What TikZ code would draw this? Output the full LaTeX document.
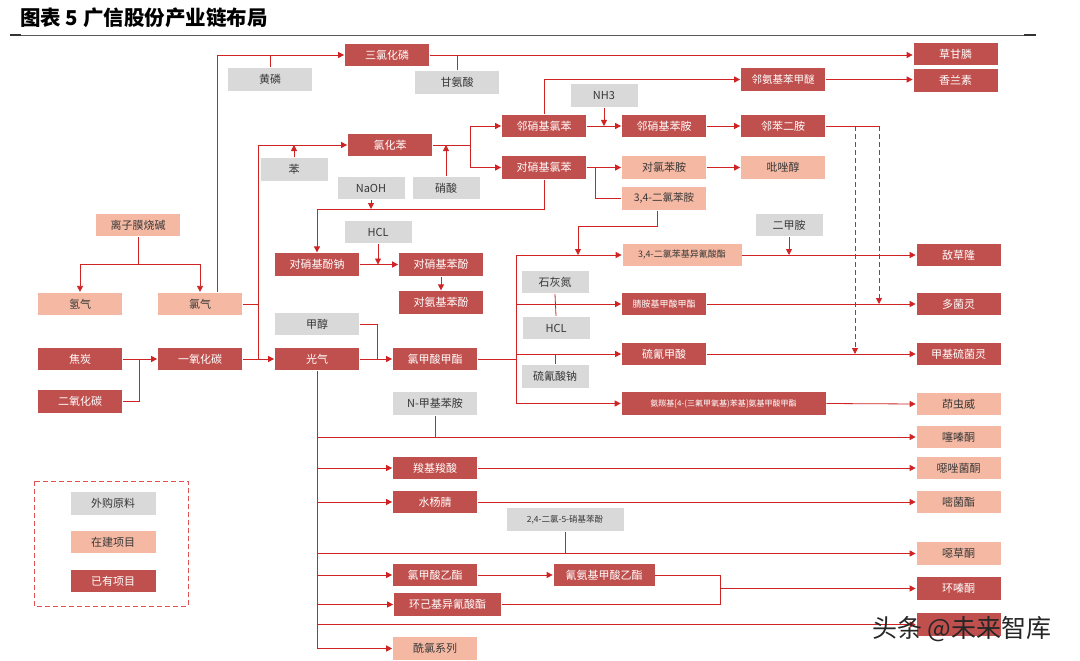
\documentclass[tikz,border=0pt]{standalone}
\usepackage{fontspec}
\newfontfamily\cjk{Noto Sans CJK SC}
\usetikzlibrary{arrows.meta}
\definecolor{dred}{RGB}{192,80,77}
\definecolor{salm}{RGB}{245,185,163}
\definecolor{lgray}{RGB}{217,217,217}
\definecolor{lred}{RGB}{208,36,36}
\definecolor{legred}{RGB}{226,80,80}
\definecolor{dtext}{RGB}{55,55,55}
\begin{document}
\begin{tikzpicture}[x=1pt,y=-1pt,
  font=\cjk\fontsize{11}{13}\selectfont,
  box/.style={minimum width=85pt, minimum height=23.5pt, inner sep=1pt, draw=white, line width=0.7pt, anchor=center},
  own/.style={box, fill=dred, text=white},
  bld/.style={box, fill=salm, text=dtext},
  buy/.style={box, fill=lgray, text=dtext},
  sm/.style={font=\cjk\fontsize{8}{10}\selectfont},
  smm/.style={font=\cjk\fontsize{9}{11}\selectfont},
  ln/.style={draw=lred, line width=0.8pt},
  arr/.style={ln, -{Triangle[length=6pt,width=6pt]}},
  dsh/.style={dash pattern=on 5pt off 3pt}
]
\useasboundingbox (0,0) rectangle (1080,661);
\fill[white] (0,0) rectangle (1080,661);

% title
\node[anchor=west, inner sep=0pt, font=\cjk\fontsize{20.5}{23}\selectfont\bfseries] (title) at (20,18) {图表 5 广信股份产业链布局};
\draw[black!65, line width=0.6pt] (10,35) -- (1035,35);
\fill[black!80] (10,33.6) rectangle (21,35.6);
\fill[black!80] (1024,33.6) rectangle (1036,35.6);

% nodes
\node[own] (pcl3) at (387,55) {三氯化磷};
\node[buy] (hp) at (270,79.5) {黄磷};
\node[buy] (gly) at (457,82.5) {甘氨酸};
\node[own] (glyp) at (955.5,54) {草甘膦};
\node[own] (van) at (955.5,80.5) {香兰素};
\node[own, font=\cjk\fontsize{10.5}{12}\selectfont] (oas) at (783,79.5) {邻氨基苯甲醚};
\node[buy, minimum width=68pt] (nh3) at (604,95.5) {NH3};
\node[own] (onc) at (544,126) {邻硝基氯苯};
\node[own] (ona) at (664,126) {邻硝基苯胺};
\node[own] (opd) at (783,126) {邻苯二胺};
\node[own] (pcb) at (390,145) {氯化苯};
\node[buy, minimum width=68pt] (ben) at (294,169.5) {苯};
\node[own] (pnc) at (544,167.5) {对硝基氯苯};
\node[bld] (pca) at (664,167.5) {对氯苯胺};
\node[bld] (pyr) at (783,167.5) {吡唑醇};
\node[buy, minimum width=68pt] (naoh) at (371,188) {NaOH};
\node[buy, minimum width=68pt] (hno3) at (446,188) {硝酸};
\node[bld, font=\cjk\fontsize{10.5}{12}\selectfont] (dca) at (664,198.5) {3,4-二氯苯胺};
\node[bld] (lzm) at (138,225) {离子膜烧碱};
\node[buy, minimum width=68pt] (hcl1) at (378,232) {HCL};
\node[own] (pnpna) at (317,264.5) {对硝基酚钠};
\node[own] (pnp) at (441,264.5) {对硝基苯酚};
\node[buy, minimum width=68pt] (dma) at (789,225) {二甲胺};
\node[bld, smm, minimum width=120pt] (dcpi) at (682,255) {3,4-二氯苯基异氰酸酯};
\node[own] (diu) at (958.5,255) {敌草隆};
\node[buy, minimum width=68pt] (lime) at (555,282) {石灰氮};
\node[own] (pap) at (441,302.5) {对氨基苯酚};
\node[bld] (h2) at (80,304) {氢气};
\node[bld] (cl2) at (200,304) {氯气};
\node[own, smm] (cbm) at (664,304) {腈胺基甲酸甲酯};
\node[own] (dj) at (958.5,304) {多菌灵};
\node[buy] (meoh) at (317,324) {甲醇};
\node[buy, minimum width=68pt] (hcl2) at (556,328) {HCL};
\node[own] (coke) at (80,359) {焦炭};
\node[own] (co) at (200,359) {一氧化碳};
\node[own] (cocl2) at (317,359) {光气};
\node[own] (mcf) at (435,359) {氯甲酸甲酯};
\node[own] (scn) at (664,354) {硫氰甲酸};
\node[own] (mts) at (958.5,354) {甲基硫菌灵};
\node[buy, minimum width=68pt] (nascn) at (555,376.5) {硫氰酸钠};
\node[own] (co2) at (80,401.5) {二氧化碳};
\node[buy] (nma) at (435,403.5) {N-甲基苯胺};
\node[own, sm, minimum width=205pt] (tfm) at (723.5,403.5) {氨羰基[4-(三氟甲氧基)苯基]氨基甲酸甲酯};
\node[bld] (ind) at (958.5,404) {茚虫威};
\node[bld] (bup) at (958.5,437) {噻嗪酮};
\node[own] (cca) at (435,468) {羧基羧酸};
\node[bld] (fam) at (958.5,468) {噁唑菌酮};
\node[own] (sal) at (435,502) {水杨腈};
\node[bld] (azo) at (958.5,502) {嘧菌酯};
\node[buy, font=\cjk\fontsize{8.5}{10}\selectfont, minimum width=118pt] (dcnp) at (565,519.5) {2,4-二氯-5-硝基苯酚};
\node[bld] (oxa) at (958.5,553.5) {噁草酮};
\node[own] (ecf) at (435,575) {氯甲酸乙酯};
\node[own, minimum width=102pt] (ecc) at (604,575) {氰氨基甲酸乙酯};
\node[own, minimum width=108pt] (chi) at (447.5,604.5) {环己基异氰酸酯};
\node[own] (hex) at (958.5,588.5) {环嗪酮};
\node[own] (hid) at (958.5,624.5) {};
\node[bld] (acl) at (435,648.5) {酰氯系列};

% legend
\draw[legred, line width=1pt, dsh] (34,481) rectangle (188,606);
\node[buy, minimum width=86pt] (lg1) at (113,503.5) {外购原料};
\node[bld, minimum width=86pt] (lg2) at (113,542) {在建项目};
\node[own, minimum width=86pt] (lg3) at (113,581) {已有项目};

% coordinates
\coordinate (j1) at (138,264);
\coordinate (j2) at (139,359);
\coordinate (cbt) at (258,145);
\coordinate (cbb) at (258,359);
\coordinate (p1) at (217,55);
\coordinate (b1) at (470,145);
\coordinate (d1) at (879,126);
\coordinate (d2) at (855,126);
\coordinate (b2) at (595,167.5);
\coordinate (b4) at (317,209);
\coordinate (b5) at (578,226);
\coordinate (b6) at (377,359);
\coordinate (r0) at (516,359);
\coordinate (rt) at (516,255);
\coordinate (rb) at (516,403.5);
\coordinate (lb) at (317,648.5);
\coordinate (b7) at (720,588.5);

% 离子膜烧碱
\draw[ln] (lzm.south) -- (j1);
\draw[arr] (j1) -| (h2.north);
\draw[arr] (j1) -| (cl2.north);
% 焦炭 / 二氧化碳 -> 一氧化碳 -> 光气
\draw[arr] (coke.east) -- (co.west);
\draw[ln] (co2.east) -| (j2);
\draw[arr] (co.east) -- (cocl2.west);
% 氯气
\draw[ln] (cl2.east) -- (cl2.east -| cbb);
\draw[ln] (cbb) -- (cbt);
\draw[arr] (cbt) -- (pcb.west);
\draw[arr] (ben.north) -- (ben.north |- cbt);
\draw[arr] (cl2.north -| p1) -- (p1) -- (pcl3.west);
\draw[ln] (hp.north) -- (hp.north |- p1);
\draw[arr] (pcl3.east) -- (pcl3.east -| glyp.west);
\draw[ln] (gly.north) -- (gly.north |- pcl3.east);
% 氯化苯
\draw[ln] (pcb.east) -- (b1);
\draw[arr] (b1) |- (onc.west);
\draw[arr] (b1) |- (pnc.west);
\draw[arr] (hno3.north) -- (hno3.north |- b1);
% 邻硝基氯苯
\draw[arr] (onc.east) -- (ona.west);
\draw[arr] (nh3.south) -- (nh3.south |- onc.east);
\draw[arr] (onc.north) |- (oas.west);
\draw[arr] (oas.east) -- (oas.east -| van.west);
\draw[arr] (ona.east) -- (opd.west);
\draw[ln] (opd.east) -- (d1);
\draw[arr, dsh] (d2) -- (d2 |- mts.west);
\draw[arr, dsh] (d1) -- (d1 |- dj.west);
% 对硝基氯苯
\draw[arr] (pnc.east) -- (pca.west);
\draw[arr] (pca.east) -- (pyr.west);
\draw[ln] (b2) |- (dca.west);
\draw[arr] (pnc.south) |- (b4) -- (pnpna.north);
\draw[arr] (naoh.south) -- (naoh.south |- b4);
\draw[arr] (pnpna.east) -- (pnp.west);
\draw[arr] (hcl1.south) -- (hcl1.south |- pnp.west);
\draw[arr] (pnp.south) -- (pap.north);
% 3,4-二氯苯胺
\draw[arr] ([xshift=-7pt]dca.south) |- (b5) -- (b5 |- dcpi.west);
% 甲醇 / 光气 -> 氯甲酸甲酯
\draw[ln] (meoh.east) -| (b6);
\draw[arr] (cocl2.east) -- (mcf.west);
% 氯甲酸甲酯 branches
\draw[ln] (mcf.east) -- (r0);
\draw[ln] (rt) -- (rb);
\draw[arr] (rt) -- (dcpi.west);
\draw[arr] (rt |- cbm.west) -- (cbm.west);
\draw[arr] (rt |- scn.west) -- (scn.west);
\draw[arr] (rb) -- (tfm.west);
\draw[ln] (lime.south) -- (hcl2.north);
\draw[ln] (nascn.north) -- (nascn.north |- scn.west);
\draw[arr] (dcpi.east) -- (diu.west);
\draw[arr] (dma.south) -- (dma.south |- dcpi.east);
\draw[arr] (cbm.east) -- (dj.west);
\draw[arr] (scn.east) -- (mts.west);
\draw[arr] (tfm.east) -- (ind.west);
% 光气 down
\draw[ln] (cocl2.south) -- (lb);
\draw[arr] (lb) -- (acl.west);
\draw[arr] (cocl2.south |- bup.west) -- (bup.west);
\draw[ln] (nma.south) -- (nma.south |- bup.west);
\draw[arr] (cocl2.south |- cca.west) -- (cca.west);
\draw[arr] (cca.east) -- (fam.west);
\draw[arr] (cocl2.south |- sal.west) -- (sal.west);
\draw[arr] (sal.east) -- (azo.west);
\draw[arr] (cocl2.south |- oxa.west) -- (oxa.west);
\draw[ln] (dcnp.south) -- (dcnp.south |- oxa.west);
\draw[arr] (cocl2.south |- ecf.west) -- (ecf.west);
\draw[arr] (ecf.east) -- (ecc.west);
\draw[arr] (cocl2.south |- chi.west) -- (chi.west);
\draw[arr] (cocl2.south |- hid.west) -- (hid.west);
\draw[ln] (ecc.east) -| (b7);
\draw[ln] (chi.east) -| (b7);
\draw[arr] (b7) -- (hex.west);

% watermark
\node[text=black!85, font=\cjk\fontsize{25}{28}\selectfont, inner sep=0pt] (wm) at (962,629) {头条 @未来智库};
\end{tikzpicture}
\end{document}
